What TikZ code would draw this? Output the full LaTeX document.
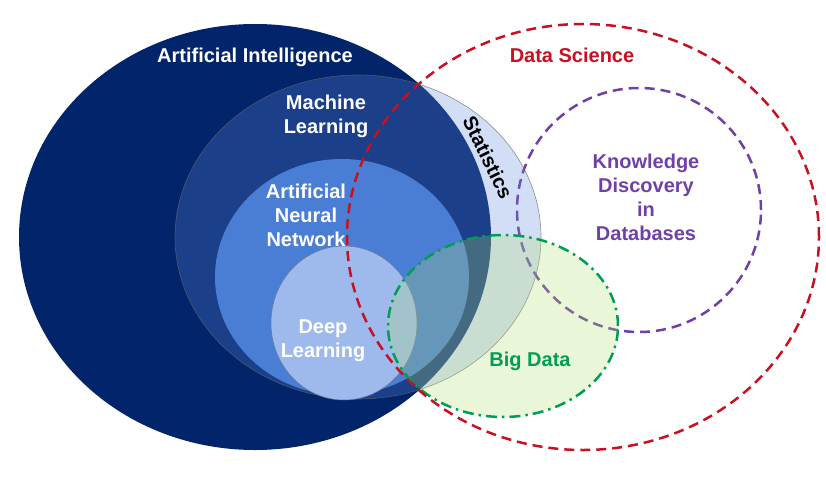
\documentclass[tikz,border=0pt]{standalone}
\usepackage{fontspec}
\setmainfont{Liberation Sans}
\usetikzlibrary{positioning}
\definecolor{aiblue}{RGB}{2,36,106}
\definecolor{statblue}{RGB}{93,136,218}
\definecolor{annblue}{RGB}{74,126,212}
\definecolor{dlblue}{RGB}{158,186,236}
\definecolor{bdfill}{RGB}{178,222,111}
\definecolor{bdgreen}{RGB}{0,158,84}
\definecolor{dsred}{RGB}{200,16,32}
\definecolor{kddpurple}{RGB}{112,64,168}

\begin{document}
\begin{tikzpicture}[x=1pt, y=-1pt,
    lbl/.style={font=\bfseries\fontsize{20}{24}\selectfont, align=center, inner sep=0pt},
    dashline/.style={line width=2.5pt, dash pattern=on 10pt off 6pt}]
    \useasboundingbox (0,0) rectangle (826,476);

    \coordinate (ai) at (255,237);
    \coordinate (ml) at (358,237);
    \coordinate (ann) at (342,277);
    \coordinate (dl) at (344,323);
    \coordinate (bd) at (503,326);
    \coordinate (kdd) at (639,210);
    \coordinate (ds) at (583,237);

    \draw[dashline, kddpurple] (kdd) ellipse [x radius=122pt, y radius=122pt];
    \fill[aiblue] (ai) ellipse [x radius=236pt, y radius=213pt];
    \fill[statblue, fill opacity=0.28] (ml) ellipse [x radius=183pt, y radius=162pt];
    \draw[black!60, line width=0.6pt, opacity=0.7] (ml) ellipse [x radius=183pt, y radius=162pt];
    \fill[annblue] (ann) ellipse [x radius=127pt, y radius=118pt];
    \filldraw[dlblue, draw=black!35!dlblue, line width=0.5pt] (dl) ellipse [x radius=73pt, y radius=77pt];
    \fill[bdfill, fill opacity=0.27] (bd) ellipse [x radius=115pt, y radius=91pt];
    \draw[bdgreen, line width=2.5pt, dash pattern=on 11pt off 5pt on 2.5pt off 5pt] (bd) ellipse [x radius=115pt, y radius=91pt];
    \draw[dashline, dsred] (ds) ellipse [x radius=236pt, y radius=213pt];

    \node[lbl, white] (ailbl) at (255,57) {Artificial Intelligence};
    \node[lbl, white] (mllbl) at (326,116) {Machine\\Learning};
    \node[lbl, white] (annlbl) at (306,215) {Artificial\\Neural\\Network};
    \node[lbl, white] (dllbl) at (323,341) {Deep\\Learning};
    \node[lbl, black, rotate=-64] (statlbl) at (488,157) {Statistics};
    \node[lbl, dsred] (dslbl) at (572,55) {Data Science};
    \node[lbl, kddpurple] (kddlbl) at (646,197) {Knowledge\\Discovery\\in\\Databases};
    \node[lbl, bdgreen] (bdlbl) at (530,361) {Big Data};
\end{tikzpicture}
\end{document}
